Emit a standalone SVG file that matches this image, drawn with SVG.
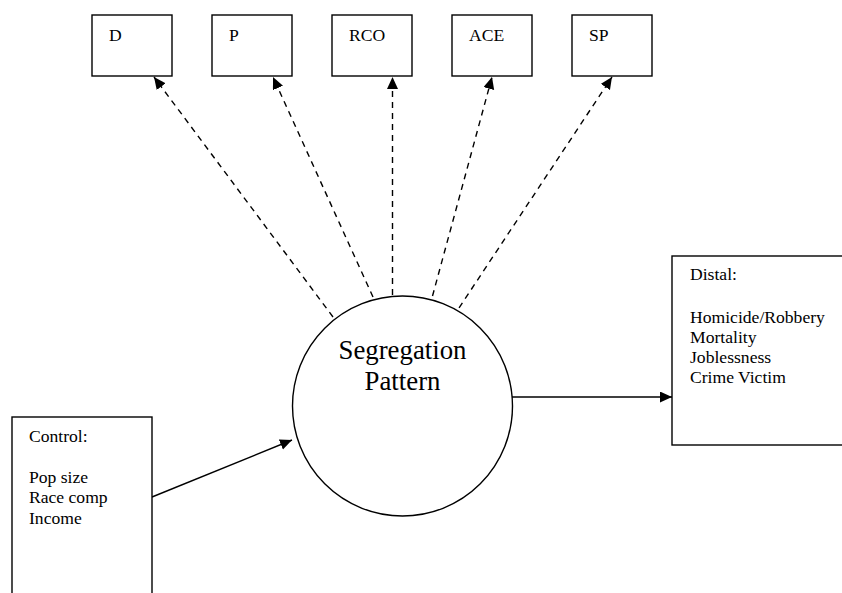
<svg xmlns="http://www.w3.org/2000/svg" width="842" height="593" viewBox="0 0 842 593">
<defs>
<marker id="ah" markerUnits="userSpaceOnUse" markerWidth="14" markerHeight="12" refX="12" refY="5.5" orient="auto">
<path d="M0,0 L12,5.5 L0,11 Z" fill="#000" stroke="none"/>
</marker>
<style>
.box{fill:#fff;stroke:#000;stroke-width:1.4}
.t{font-family:"Liberation Serif","Times New Roman",serif;font-size:17.6px;fill:#000}
.big{font-family:"Liberation Serif","Times New Roman",serif;font-size:26.8px;fill:#000;text-anchor:middle}
.dash{stroke:#000;stroke-width:1.4;stroke-dasharray:6,5;fill:none;marker-end:url(#ah)}
.solid{stroke:#000;stroke-width:1.4;fill:none;marker-end:url(#ah)}
</style>
</defs>
<rect width="842" height="593" fill="#fff"/>
<g id="connectors">
<line class="dash" x1="333" y1="317" x2="154" y2="77"/>
<line class="dash" x1="373" y1="297" x2="273" y2="77"/>
<line class="dash" x1="392.5" y1="295" x2="392.5" y2="77"/>
<line class="dash" x1="432.5" y1="296" x2="492" y2="77"/>
<line class="dash" x1="453" y1="317" x2="612" y2="77"/>
<line class="solid" x1="152" y1="497" x2="292" y2="440"/>
<line class="solid" x1="512" y1="397" x2="672" y2="397"/>
</g>
<g id="D"><rect class="box" x="92" y="15" width="80" height="61"/><text class="t" x="109" y="41">D</text></g>
<g id="P"><rect class="box" x="212" y="15" width="80" height="61"/><text class="t" x="229" y="41">P</text></g>
<g id="RCO"><rect class="box" x="332" y="15" width="80" height="61"/><text class="t" x="349" y="41">RCO</text></g>
<g id="ACE"><rect class="box" x="452" y="15" width="80" height="61"/><text class="t" x="469" y="41">ACE</text></g>
<g id="SP"><rect class="box" x="572" y="15" width="80" height="61"/><text class="t" x="589" y="41">SP</text></g>
<g id="segregation">
<circle class="box" cx="402.5" cy="406" r="110"/>
<text class="big" x="402.5" y="359">Segregation</text>
<text class="big" x="402.5" y="390">Pattern</text>
</g>
<g id="control">
<rect class="box" x="12" y="417" width="140" height="190"/>
<text class="t" x="29" y="442">Control:</text>
<text class="t" x="29" y="483">Pop size</text>
<text class="t" x="29" y="503">Race comp</text>
<text class="t" x="29" y="524">Income</text>
</g>
<g id="distal">
<rect class="box" x="672" y="256" width="200" height="189"/>
<text class="t" x="690" y="280">Distal:</text>
<text class="t" x="690" y="323">Homicide/Robbery</text>
<text class="t" x="690" y="343">Mortality</text>
<text class="t" x="690" y="363">Joblessness</text>
<text class="t" x="690" y="383">Crime Victim</text>
</g>
</svg>
